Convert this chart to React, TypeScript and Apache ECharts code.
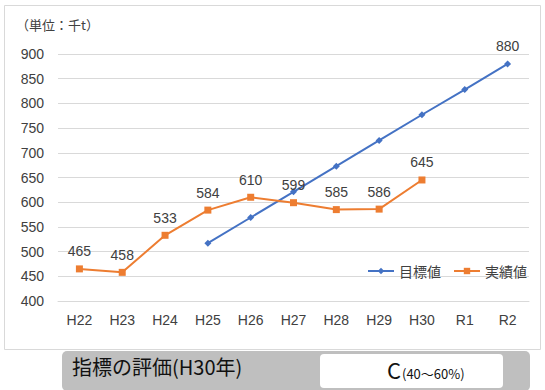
import React, { useEffect, useRef } from "react";
import * as echarts from "echarts";

const categories = ["H22", "H23", "H24", "H25", "H26", "H27", "H28", "H29", "H30", "R1", "R2"];
const targetValues: (number | null)[] = [null, null, null, 517, 569, 621, 673, 725, 777, 828, 880];
const actualValues: (number | null)[] = [465, 458, 533, 584, 610, 599, 585, 586, 645, null, null];
const yTicks = { min: 400, max: 900, interval: 50 };
const unitLabel = "（単位：千t）";
const evalTitle = "指標の評価(H30年)";
const evalGrade = "C";
const evalRange = "(40～60%)";

const FONT = "'Liberation Sans', 'Noto Sans CJK JP', sans-serif";
const CJK = "'Noto Sans CJK JP', sans-serif";

export default function App() {
  const ref = useRef<HTMLDivElement>(null);
  useEffect(() => {
    if (!ref.current) return;
    const chart = echarts.init(ref.current, null, { renderer: "svg" });
    chart.setOption({
      animation: false,
      textStyle: { fontFamily: FONT },
      grid: { left: 58, right: 16, top: 54, bottom: 89, containLabel: false },
      legend: {
        data: ["目標値", "実績値"],
        left: 362,
        top: 259,
        itemWidth: 26,
        itemHeight: 8,
        itemGap: 12,
        textStyle: { fontSize: 14, color: "#404040", fontFamily: CJK },
      },
      xAxis: {
        type: "category",
        data: categories,
        boundaryGap: true,
        axisLine: { lineStyle: { color: "#d9d9d9" } },
        axisTick: { alignWithLabel: true, length: 5, lineStyle: { color: "#d9d9d9" } },
        axisLabel: { color: "#404040", fontSize: 14, margin: 12, fontFamily: FONT },
      },
      yAxis: {
        type: "value",
        min: yTicks.min,
        max: yTicks.max,
        interval: yTicks.interval,
        axisLine: { show: false },
        axisTick: { show: false },
        axisLabel: { color: "#404040", fontSize: 14, margin: 14, fontFamily: FONT },
        splitLine: { lineStyle: { color: "#d9d9d9", width: 1 } },
      },
      series: [
        {
          name: "目標値",
          type: "line",
          data: targetValues,
          color: "#4472C4",
          symbol: "diamond",
          symbolSize: 7,
          lineStyle: { width: 2, color: "#4472C4" },
          itemStyle: { color: "#4472C4" },
          label: {
            show: true,
            position: "top",
            distance: 7,
            color: "#404040",
            fontSize: 14,
            fontFamily: FONT,
            formatter: (p: any) => (p.dataIndex === categories.length - 1 ? String(p.value) : ""),
          },
        },
        {
          name: "実績値",
          type: "line",
          data: actualValues,
          color: "#ED7D31",
          symbol: "rect",
          symbolSize: 7,
          lineStyle: { width: 2, color: "#ED7D31" },
          itemStyle: { color: "#ED7D31" },
          label: {
            show: true,
            position: "top",
            distance: 7,
            color: "#404040",
            fontSize: 14,
            fontFamily: FONT,
          },
        },
      ],
      graphic: [
        {
          type: "rect",
          shape: { x: 4.5, y: 5.5, width: 536, height: 344 },
          style: { fill: "none", stroke: "#d9d9d9", lineWidth: 1 },
          silent: true,
          z: -10,
        },
        {
          type: "text",
          left: 16,
          top: 18,
          style: { text: unitLabel, fontSize: 13, fill: "#404040", fontFamily: CJK },
        },
        {
          type: "rect",
          shape: { x: 62, y: 351, width: 468, height: 40, r: 5 },
          style: { fill: "#bfbfbf" },
        },
        {
          type: "rect",
          shape: { x: 320, y: 354, width: 183, height: 34, r: 4 },
          style: { fill: "#ffffff" },
        },
        {
          type: "text",
          left: 72,
          top: 356,
          style: { text: evalTitle, fontSize: 20, fill: "#111111", fontFamily: CJK },
        },
        {
          type: "text",
          left: 387,
          top: 358,
          style: { text: evalGrade, fontSize: 22, fill: "#111111", fontFamily: CJK },
        },
        {
          type: "text",
          left: 402,
          top: 367,
          style: { text: evalRange, fontSize: 13, fill: "#111111", fontFamily: CJK },
        },
      ],
    });
    return () => chart.dispose();
  }, []);
  return (
    <div
      ref={ref}
      style={{ position: "fixed", left: 0, top: 0, width: 545, height: 390, background: "#ffffff" }}
    />
  );
}
